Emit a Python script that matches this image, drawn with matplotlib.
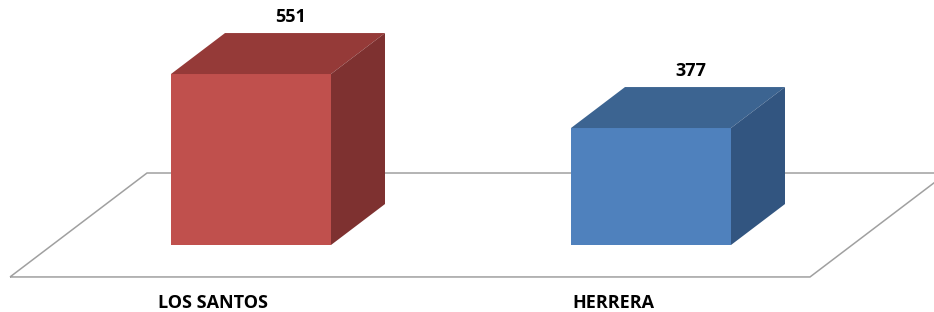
import matplotlib.pyplot as plt
from matplotlib.patches import Polygon

# data
categories = ['LOS SANTOS', 'HERRERA']
values = [551, 377]

# colours of the three visible faces of each bar
front_colors = ['#C0504D', '#4F81BD']
top_colors = ['#953A38', '#3C6491']
side_colors = ['#7E3130', '#325580']

bar_w = 0.4          # bar width in category units
dx, dy = 0.135, 132  # depth offset of a bar (x units, value units)
floor_front, floor_back = -103, 232
floor_left, floor_right = -0.6025, 1.3975
floor_dx = 0.3425

fig = plt.figure(figsize=(9.34, 3.12), dpi=100)
ax = fig.add_axes([0, 0, 1, 1])
ax.set_xlim(-0.6275, 1.7075)
ax.set_ylim(-215.9, 789.5)
ax.axis('off')

# floor
floor = Polygon([(floor_left, floor_front), (floor_right, floor_front),
                 (floor_right + floor_dx, floor_back), (floor_left + floor_dx, floor_back)],
                closed=True, facecolor='none', edgecolor='#A0A0A0', linewidth=1.1)
ax.add_patch(floor)

for i, (cat, v) in enumerate(zip(categories, values)):
    x0 = i - bar_w / 2
    x1 = i + bar_w / 2
    front = Polygon([(x0, 0), (x1, 0), (x1, v), (x0, v)], closed=True,
                    facecolor=front_colors[i], edgecolor='none')
    top = Polygon([(x0, v), (x1, v), (x1 + dx, v + dy), (x0 + dx, v + dy)], closed=True,
                  facecolor=top_colors[i], edgecolor='none')
    side = Polygon([(x1, 0), (x1 + dx, dy), (x1 + dx, v + dy), (x1, v)], closed=True,
                   facecolor=side_colors[i], edgecolor='none')
    for p in (front, top, side):
        ax.add_patch(p)
    ax.text(i + 0.1, v + dy + 22, str(v), ha='center', va='bottom',
            fontsize=13, fontweight='bold', family='Open Sans')
    ax.text(i - 0.095, -187, cat, ha='center', va='center',
            fontsize=13, fontweight='bold', family='Open Sans')

fig.savefig('out.png', dpi=100)
